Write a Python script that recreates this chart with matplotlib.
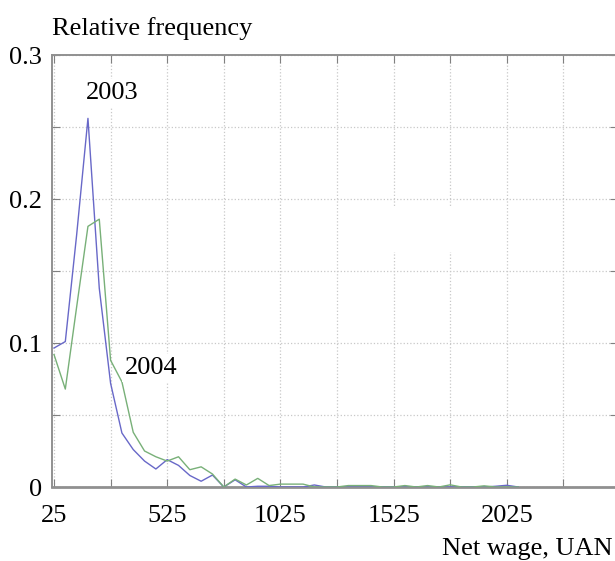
import matplotlib.pyplot as plt
from matplotlib.patches import Rectangle
from matplotlib.ticker import FixedLocator, FixedFormatter

# bin centres (UAN) and relative frequencies
wage = [25, 75, 125, 175, 225, 275, 325, 375, 425, 475, 525, 575, 625, 675,
        725, 775, 825, 875, 925, 975, 1025, 1075, 1125, 1175, 1225, 1275,
        1325, 1375, 1425, 1475, 1525, 1575, 1625, 1675, 1725, 1775, 1825,
        1875, 1925, 1975, 2025, 2075]
freq_2003 = [0.0965, 0.101, 0.175, 0.256, 0.138, 0.072, 0.0375, 0.026, 0.018,
             0.0125, 0.019, 0.015, 0.008, 0.004, 0.0083, 0.0, 0.005, 0.0,
             0.0005, 0.0005, 0.0, 0.0, 0.0, 0.0014, 0.0, 0.0, 0.0, 0.0, 0.0,
             0.0, 0.0, 0.0, 0.0, 0.0, 0.0, 0.0, 0.0, 0.0, 0.0, 0.0005, 0.0012,
             0.0]
freq_2004 = [0.092, 0.068, 0.125, 0.181, 0.186, 0.088, 0.073, 0.038, 0.025,
             0.021, 0.018, 0.021, 0.012, 0.014, 0.009, 0.0, 0.0055, 0.0014,
             0.006, 0.001, 0.002, 0.002, 0.002, 0.0, 0.0, 0.0, 0.001, 0.001,
             0.001, 0.0, 0.0, 0.001, 0.0, 0.001, 0.0, 0.0015, 0.0, 0.0, 0.0008,
             0.0, 0.0, 0.0]

x_ticks = [25, 275, 525, 775, 1025, 1275, 1525, 1775, 2025, 2275, 2525]
x_labels = ['25', '', '525', '', '1025', '', '1525', '', '2025', '', '']
y_ticks = [0, 0.05, 0.1, 0.15, 0.2, 0.25, 0.3]
y_labels = ['0', '', '0.1', '', '0.2', '', '0.3']

plt.rcParams['font.family'] = ['Liberation Serif', 'DejaVu Serif']

fig = plt.figure(figsize=(6.15, 5.61), dpi=100)
ax = fig.add_axes([52 / 615, 74 / 561, 566 / 615, 432 / 561])

ax.plot(wage, freq_2003, color='#6868c8', lw=1.0, zorder=3)
ax.plot(wage, freq_2004, color='#78b078', lw=1.0, zorder=3)

ax.set_xlim(16.2, 16.2 + 566 * 4.417)
ax.set_ylim(0, 0.3)

ax.xaxis.set_major_locator(FixedLocator(x_ticks))
ax.xaxis.set_major_formatter(FixedFormatter(x_labels))
ax.yaxis.set_major_locator(FixedLocator(y_ticks))
ax.yaxis.set_major_formatter(FixedFormatter(y_labels))

ax.grid(True, ls=':', color='#c8c8c8', lw=0.9, zorder=1)
ax.tick_params(direction='in', top=True, right=True, length=6,
               color='#808080', labelsize=19)
ax.tick_params(axis='x', pad=13)
ax.tick_params(axis='y', pad=7)
for side in ['top', 'bottom', 'left', 'right']:
    ax.spines[side].set_color('#909090')
    ax.spines[side].set_linewidth(1.4)
ax.spines['bottom'].set_linewidth(2.0)

# blank patch that hides the grid in the middle of the plot
ax.add_patch(Rectangle((1487, 0.163), 331, 0.031, facecolor='white',
                       edgecolor='none', zorder=2))

ax.text(283, 0.2736, '2003', fontsize=19, ha='center', va='center', zorder=4,
        bbox=dict(facecolor='white', edgecolor='none', pad=2))
ax.text(453, 0.0826, '2004', fontsize=19, ha='center', va='center', zorder=4,
        bbox=dict(facecolor='white', edgecolor='none', pad=2))

fig.text(52 / 615, 1 - 35 / 561, 'Relative frequency', fontsize=19,
         ha='left', va='baseline')
fig.text(613 / 615, 1 - 555 / 561, 'Net wage, UAN', fontsize=19,
         ha='right', va='baseline')

fig.savefig('out.png', dpi=100)
